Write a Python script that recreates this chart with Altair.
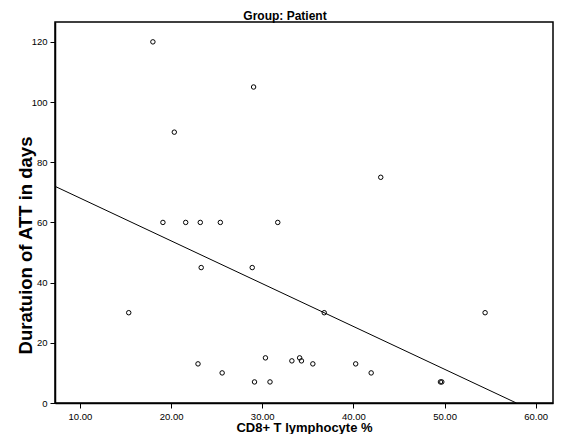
import altair as alt
import pandas as pd

# Scatter data
cd8_pct = [18.0, 29.05, 20.35, 43.0,
           19.1, 21.6, 23.2, 25.4, 31.7,
           23.3, 28.9,
           15.35, 36.8, 54.45,
           30.35, 34.1,
           33.25, 34.3,
           22.95, 35.55, 40.25,
           25.6, 41.95,
           29.15, 30.85, 49.55, 49.7]
att_days = [120, 105, 90, 75,
            60, 60, 60, 60, 60,
            45, 45,
            30, 30, 30,
            15, 15,
            14, 14,
            13, 13, 13,
            10, 10,
            7, 7, 7, 7]

# Fit line end points as drawn
fit_x = [7.26, 57.88]
fit_y = [72.0, 0.0]

x_ticks = [10, 20, 30, 40, 50, 60]
y_ticks = [0, 20, 40, 60, 80, 100, 120]

chart_title = ["Group: Patient"]

FONT = "Liberation Sans"

pts = pd.DataFrame({"x": cd8_pct, "y": att_days})
fit = pd.DataFrame({"x": fit_x, "y": fit_y})
ttl = pd.DataFrame({"t": chart_title})

x_scale = alt.Scale(domain=[7.26, 61.90], nice=False, zero=False)
y_scale = alt.Scale(domain=[0, 126.6], nice=False, zero=False)

x_axis = alt.Axis(values=x_ticks, format=".2f", title="CD8+ T lymphocyte %",
                  grid=False, tickSize=5, tickColor="#000", domainColor="#000",
                  domainWidth=1.5, labelPadding=3, labelFont=FONT, labelFontSize=9.5,
                  labelColor="#000", titleFont=FONT, titleFontSize=13,
                  titleFontWeight="bold", titleColor="#000",
                  titleY=28.5, titleBaseline="alphabetic")
y_axis = alt.Axis(values=y_ticks, format="d", title="Duratuion of ATT in days",
                  grid=False, tickSize=5, tickColor="#000", domainColor="#000",
                  domainWidth=1.5, labelPadding=3, labelFont=FONT, labelFontSize=9.5,
                  labelColor="#000", titleFont=FONT, titleFontSize=18.5,
                  titleFontWeight="bold", titleColor="#000",
                  titleX=-29.5, titleY=223, titleAngle=270,
                  titleBaseline="middle", titleAlign="center")

points = alt.Chart(pts).mark_point(shape="circle", filled=False, color="#000",
                                   size=20, strokeWidth=1, opacity=1).encode(
    x=alt.X("x:Q", scale=x_scale, axis=x_axis),
    y=alt.Y("y:Q", scale=y_scale, axis=y_axis),
)

line = alt.Chart(fit).mark_line(color="#000", strokeWidth=1, clip=True).encode(
    x=alt.X("x:Q", scale=x_scale),
    y=alt.Y("y:Q", scale=y_scale),
)

title_mark = alt.Chart(ttl).mark_text(font=FONT, fontSize=12, fontWeight="bold",
                                      color="#000", align="center",
                                      baseline="alphabetic").encode(
    x=alt.value(230), y=alt.value(-2.5), text="t:N",
)

chart = alt.layer(line, points, title_mark).properties(
    width=498, height=381,
    background="#fff",
    autosize=alt.AutoSizeParams(type="none"),
    padding={"left": 47, "top": 14, "right": 1, "bottom": 31},
).configure_view(stroke="#000", strokeWidth=1.5)

chart.save("out.html", embed_options={"renderer": "svg", "actions": False})
